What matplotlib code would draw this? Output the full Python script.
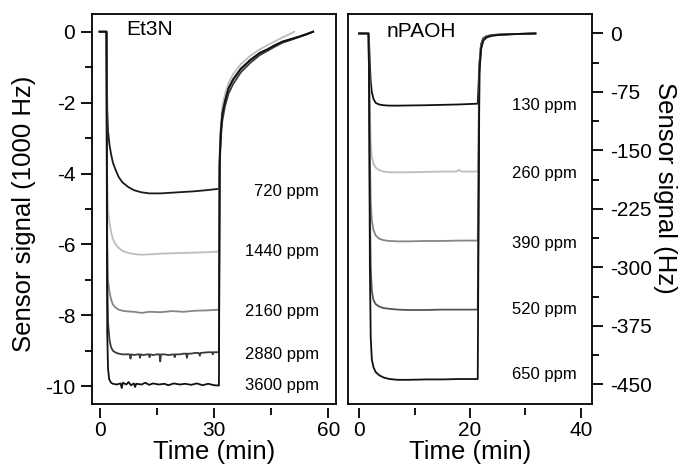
import matplotlib
matplotlib.use("Agg")
import matplotlib.pyplot as plt

plt.rcParams["font.family"] = ["Liberation Sans", "DejaVu Sans"]
plt.rcParams["axes.unicode_minus"] = False

# ── Et3N (left panel, 1000 Hz) : (time min, signal) ──
trace_720 = [(0, 0), (1.8, 0), (1.9, -1.0), (2.0, -2.2), (2.2, -2.8), (2.6, -3.2), (3.0, -3.45),
             (3.5, -3.7), (4.2, -3.9), (5, -4.1), (6, -4.25), (7.5, -4.38), (9, -4.47), (11, -4.53),
             (13, -4.56), (16, -4.56), (19, -4.54), (22, -4.52), (25, -4.5), (28, -4.47), (31.3, -4.43)]
trace_1440 = [(0, 0), (1.8, 0), (1.9, -2.0), (2.0, -4.2), (2.2, -5.0), (2.6, -5.4), (3.0, -5.65),
              (3.5, -5.85), (4.2, -6.0), (5, -6.1), (6, -6.18), (7.5, -6.24), (9, -6.27), (11, -6.29),
              (13, -6.28), (16, -6.26), (19, -6.25), (22, -6.24), (25, -6.23), (28, -6.22), (31.3, -6.2)]
trace_2160 = [(0, 0), (1.8, 0), (1.9, -3.0), (2.0, -6.0), (2.2, -7.0), (2.6, -7.35), (3.0, -7.55),
              (3.5, -7.7), (4.2, -7.78), (5, -7.84), (6, -7.87), (7.5, -7.89), (9, -7.9), (11, -7.93),
              (13, -7.9), (16, -7.91), (19, -7.88), (22, -7.9), (25, -7.87), (28, -7.86), (31.3, -7.84)]
trace_2880 = [(0, 0), (1.8, 0), (1.9, -3.5), (2.0, -7.0), (2.2, -8.2), (2.6, -8.7), (3.0, -8.9),
              (3.5, -9.0), (4.2, -9.05), (5.0, -9.08), (6.0, -9.1), (7.0, -9.1), (7.9, -9.1),
              (8.1, -9.22), (8.3, -9.1), (9.0, -9.12), (10.0, -9.1), (10.4, -9.1), (10.6, -9.2),
              (10.8, -9.1), (11.5, -9.12), (12.5, -9.1), (12.9, -9.1), (13.1, -9.18), (13.3, -9.1),
              (14.0, -9.12), (15.0, -9.1), (15.7, -9.1), (15.9, -9.3), (16.1, -9.1), (17.0, -9.1),
              (18.0, -9.12), (19.5, -9.1), (19.7, -9.18), (19.9, -9.1), (21.0, -9.1), (22.0, -9.08),
              (22.7, -9.08), (22.9, -9.2), (23.1, -9.08), (24.0, -9.08), (25.0, -9.06), (26.0, -9.06),
              (26.3, -9.14), (26.5, -9.06), (27.5, -9.05), (28.5, -9.04), (29.5, -9.04), (29.7, -9.1),
              (29.9, -9.04), (30.5, -9.04), (31.3, -9.04)]
trace_3600 = [(0, 0), (1.8, 0), (1.9, -5.0), (2.0, -8.5), (2.2, -9.5), (2.5, -9.8), (3.0, -9.9),
              (3.5, -9.93), (4.5, -9.95), (5.5, -9.92), (5.8, -10.05), (6.1, -9.9), (7, -9.95),
              (7.6, -9.88), (8.2, -9.97), (9, -9.92), (9.3, -10.02), (9.6, -9.93), (11, -9.95),
              (12, -9.9), (13, -9.96), (14, -9.92), (15.5, -9.95), (17, -9.93), (18, -9.97),
              (19.5, -9.92), (21, -9.95), (22.5, -9.93), (24, -9.96), (25.5, -9.92), (27, -9.97),
              (28.5, -9.93), (30, -9.97), (31.3, -9.98)]

# recovery after gas off (curves nearly coincide)
rec_left = [(31.5, -3.6), (31.8, -2.8), (32.2, -2.3), (32.9, -1.95), (33.8, -1.6), (35.0, -1.35),
            (37.0, -1.05), (39.5, -0.8), (42.0, -0.6), (44.0, -0.5), (46.0, -0.38), (48.0, -0.28),
            (50.5, -0.2), (52.6, -0.13), (54.5, -0.06), (56.0, 0.0)]
rec_left_low = [(31.5, -3.8), (31.8, -3.0), (32.2, -2.5), (32.9, -2.1), (33.8, -1.75), (35.0, -1.48),
                (37.0, -1.15), (39.5, -0.88), (42.0, -0.66), (44.0, -0.54), (46.0, -0.42),
                (48.0, -0.31), (50.5, -0.22), (52.6, -0.14), (54.5, -0.07), (56.0, 0.0)]
rec_left_gray = [(31.5, -3.4), (31.8, -2.6), (32.2, -2.1), (32.9, -1.75), (33.8, -1.45), (35.0, -1.2),
                 (37.0, -0.92), (39.5, -0.68), (42.0, -0.5), (44.0, -0.38), (46.0, -0.27),
                 (48.0, -0.16), (50.0, -0.06), (51.0, 0.0)]

left_labels = ["720 ppm", "1440 ppm", "2160 ppm", "2880 ppm", "3600 ppm"]
left_label_y = [-4.51, -6.2, -7.89, -9.1, -9.97]

# ── nPAOH (right panel, Hz) ──
trace_130 = [(0, 0), (1.7, 0), (1.8, -10), (1.95, -40), (2.1, -62), (2.3, -75), (2.6, -84), (3.0, -89),
             (3.6, -91), (4.4, -92), (5.5, -92.5), (7, -92.5), (9, -92.3), (12, -92), (15, -91.5),
             (18, -91), (21.4, -90)]
trace_260 = [(0, 0), (1.7, 0), (1.8, -30), (1.95, -100), (2.1, -140), (2.3, -158), (2.6, -167),
             (3.0, -172), (3.6, -175), (4.4, -177), (5.5, -178), (7, -178), (9, -178), (12, -177.5),
             (15, -177), (17.5, -177), (18, -175), (18.5, -177), (21.4, -177)]
trace_390 = [(0, 0), (1.7, 0), (1.8, -50), (1.95, -160), (2.1, -215), (2.3, -240), (2.6, -252),
             (3.0, -259), (3.6, -263), (4.4, -265), (5.5, -266), (7, -266.5), (9, -266.5), (12, -266),
             (15, -266), (18, -265.5), (21.4, -265.5)]
trace_520 = [(0, 0), (1.7, 0), (1.8, -60), (1.95, -220), (2.1, -300), (2.3, -330), (2.6, -342),
             (3.0, -347), (3.6, -350), (4.4, -352), (5.5, -353), (7, -354), (9, -354.5), (12, -354.5),
             (15, -354), (18, -354), (21.4, -354)]
trace_650 = [(0, 0), (1.7, 0), (1.8, -50), (1.95, -300), (2.1, -390), (2.3, -418), (2.6, -428),
             (3.0, -434), (3.6, -438), (4.4, -441), (5.5, -443), (7, -444), (9, -444), (12, -443.5),
             (15, -443.5), (18, -443), (21.4, -443)]

rec_right = [(21.7, -40), (22.0, -14), (22.4, -6), (23.0, -3.5), (24.0, -2.0), (25.5, -1.3),
             (27.5, -0.8), (29.5, -0.4), (31.8, 0)]
rec_right_low = [(21.7, -50), (22.0, -20), (22.4, -9), (23.0, -5.0), (24.0, -2.8), (25.5, -1.7),
                 (27.5, -1.0), (29.5, -0.5), (31.8, 0)]

right_labels = ["130 ppm", "260 ppm", "390 ppm", "520 ppm", "650 ppm"]
right_label_y = [-92, -179, -269, -354, -437]

left_shades = ["#1a1a1a", "#bdbdbd", "#858585", "#3a3a3a", "#111111"]
right_shades = ["#111111", "#bdbdbd", "#858585", "#555555", "#111111"]


def draw(ax, trace, rec, color):
    pts = trace + rec
    ax.plot([p[0] for p in pts], [p[1] for p in pts], color=color, lw=1.3)


def bottom_ticks(ax, major, minor):
    # x ticks sit on a slightly lowered axis, detached from the box
    ax.tick_params(axis="x", which="both", bottom=False, labelbottom=False)
    sec = ax.secondary_xaxis(-0.009)
    sec.spines["bottom"].set_visible(False)
    sec.set_xticks(major)
    sec.set_xticks(minor, minor=True)
    sec.tick_params(which="major", direction="out", length=7, width=1.3, labelsize=15, pad=3)
    sec.tick_params(which="minor", direction="out", length=5, width=1.3)
    sec.set_xlabel("Time (min)", fontsize=18.5, labelpad=0)


fig = plt.figure(figsize=(6.83, 4.69), dpi=100)
axL = fig.add_axes([0.1347, 0.1386, 0.3572, 0.8316])
axR = fig.add_axes([0.5095, 0.1386, 0.3572, 0.8316])

# ── left panel ──
left_traces = [trace_720, trace_1440, trace_2160, trace_2880, trace_3600]
left_recs = [rec_left, rec_left_gray, rec_left, rec_left_low, rec_left]
for tr, rc, c in zip(left_traces, left_recs, left_shades):
    draw(axL, tr, rc, c)
for lab, y in zip(left_labels, left_label_y):
    axL.text(57.5, y, lab, ha="right", va="center", fontsize=12)
axL.text(7.1, 0.05, "Et3N", ha="left", va="center", fontsize=15)

axL.set_xlim(-2, 62)
axL.set_ylim(-10.5, 0.5)
axL.set_yticks([0, -2, -4, -6, -8, -10])
axL.set_yticks([-1, -3, -5, -7, -9], minor=True)
axL.tick_params(axis="y", which="major", direction="out", length=8, width=1.3, labelsize=15, pad=4)
axL.tick_params(axis="y", which="minor", direction="out", length=5, width=1.3)
axL.set_ylabel("Sensor signal (1000 Hz)", fontsize=18.5)
axL.yaxis.set_label_coords(-0.23, 0.487)
bottom_ticks(axL, [0, 30, 60], [15, 45])

# ── right panel ──
right_traces = [trace_130, trace_260, trace_390, trace_520, trace_650]
right_recs = [rec_right, rec_right, rec_right_low, rec_right, rec_right_low]
for tr, rc, c in zip(right_traces, right_recs, right_shades):
    draw(axR, tr, rc, c)
for lab, y in zip(right_labels, right_label_y):
    axR.text(39.3, y, lab, ha="right", va="center", fontsize=12)
axR.text(4.9, 2.5, "nPAOH", ha="left", va="center", fontsize=15)

axR.set_xlim(-2, 42)
axR.set_ylim(-475, 25)
axR.yaxis.tick_right()
axR.set_yticks([0, -75, -150, -225, -300, -375, -450])
axR.set_yticks([-37.5, -112.5, -187.5, -262.5, -337.5, -412.5], minor=True)
axR.tick_params(axis="y", which="major", direction="out", length=8, width=1.3, labelsize=15, pad=5)
axR.tick_params(axis="y", which="minor", direction="out", length=5, width=1.3)
axR.yaxis.set_label_position("right")
axR.set_ylabel("Sensor signal (Hz)", fontsize=18.5, rotation=270, va="bottom")
axR.yaxis.set_label_coords(1.25, 0.554)
bottom_ticks(axR, [0, 20, 40], [10, 30])

for ax in (axL, axR):
    for s in ax.spines.values():
        s.set_linewidth(1.3)

fig.savefig("out.png", dpi=100)
